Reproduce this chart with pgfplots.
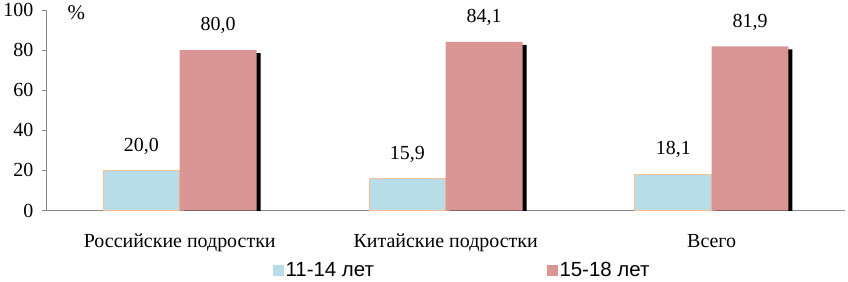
\documentclass[border=0pt]{standalone}
\usepackage{pgfplots}
\pgfplotsset{compat=1.18}
\usepackage{fontspec}
\setmainfont{Liberation Serif}
\newfontfamily\legendfont{Liberation Sans}
\definecolor{cblue}{HTML}{B7DEE8}
\definecolor{cborder}{HTML}{FAC090}
\definecolor{cpink}{HTML}{D99694}
\definecolor{axgray}{HTML}{868686}
\begin{document}
\begin{tikzpicture}
\begin{axis}[
  width=800pt, height=201pt, scale only axis,
  xmin=-0.5, xmax=2.5, ymin=0, ymax=100,
  axis x line*=bottom, axis y line*=left,
  axis line style={axgray, line width=0.8pt},
  ytick={0,20,...,100},
  xtick={0,1,2},
  xticklabels={Российские подростки, Китайские подростки, Всего},
  extra x ticks={0.5,1.5,2.5},
  extra x tick labels={},
  extra x tick style={major tick length=5pt, tick style={axgray, line width=0.8pt}, tick align=outside},
  major x tick style={draw=none},
  y tick style={axgray, line width=0.8pt},
  tick align=outside, major tick length=5pt,
  /pgf/number format/assume math mode=true,
  ticklabel style={font=\fontsize{20}{24}\selectfont, black},
  yticklabel style={xshift=-5pt},
  xticklabel style={yshift=-15pt},
  ybar, bar width=77pt,
  nodes near coords,
  every node near coord/.append style={font=\fontsize{20}{24}\selectfont, black, anchor=south, inner sep=0pt, yshift=16pt,
    /pgf/number format/.cd, fixed, fixed zerofill, precision=1, use comma, assume math mode=true},
  legend style={at={(axis description cs:0.279,-0.235)}, anchor=north west, draw=none, fill=none,
    legend columns=2, font=\legendfont\fontsize{20.5}{24}\selectfont,
    /tikz/every even column/.append style={column sep=171pt}},
  clip=true, clip mode=individual,
  after end axis/.code={\node[font=\fontsize{21}{25}\selectfont, inner sep=0pt, anchor=center] at (rel axis cs:0.037,0.985) {\%};},
]
\addplot+[bar shift=-38.5pt, fill=cblue, draw=cborder, line width=0.8pt,
  legend image code/.code={\pgfpathrectangle{\pgfpoint{0pt}{-6pt}}{\pgfpoint{11pt}{11pt}}\pgfsetfillcolor{cblue}\pgfusepath{fill}}]
  coordinates {(0,20.0) (1,15.9) (2,18.1)};
\addlegendentry{11-14 лет}
\addplot+[bar shift=38.5pt, fill=cpink, draw=none,
  preaction={fill=black, transform canvas={xshift=4pt, yshift=-3pt}},
  legend image code/.code={\pgfpathrectangle{\pgfpoint{0pt}{-6pt}}{\pgfpoint{11pt}{11pt}}\pgfsetfillcolor{cpink}\pgfusepath{fill}}]
  coordinates {(0,80.0) (1,84.1) (2,81.9)};
\addlegendentry{15-18 лет}
\end{axis}
\end{tikzpicture}
\end{document}
